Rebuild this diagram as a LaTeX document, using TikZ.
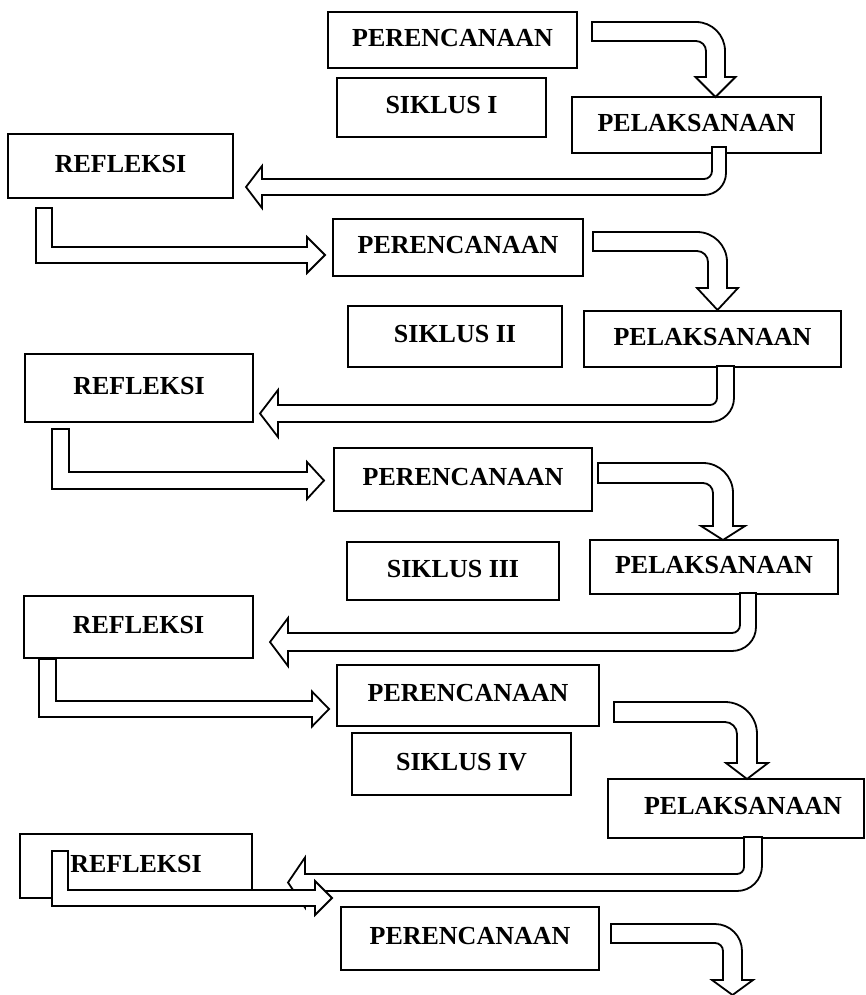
\documentclass[tikz,border=0pt]{standalone}
\usepackage{fontspec}
\setmainfont{Liberation Serif}
\tikzset{
  box/.style={draw, line width=1.8pt, fill=white, inner sep=0pt, outer sep=0pt,
    anchor=north west, font=\fontsize{26}{30}\selectfont\bfseries, text depth=5pt},
  blk/.style={draw, line width=1.8pt, fill=white, line join=miter},
}
% box: name, x1, y1, x2, y2, text
\newcommand\bx[6]{\node[box, minimum width={(#4-#2)*1pt}, minimum height={(#5-#3)*1pt}] (#1) at (#2,#3) {#6};}
% right-then-down arrow: xs, yt, yb, xo, w, ro, yh, hh, ytip
\newcommand\ArrA[9]{%
  \pgfmathsetmacro\aXi{#4-#5}%
  \pgfmathsetmacro\aXc{#4-#5/2}%
  \pgfmathsetmacro\aRi{max(#6-(#3-#2),0)}%
  \pgfmathsetmacro\aK{0.5523}%
  \draw[blk] (#1,#2) -- ({#4-#6},#2) .. controls ({#4-#6+\aK*#6},#2) and (#4,{#2+#6-\aK*#6}) .. (#4,{#2+#6})
    -- (#4,#7) -- ({\aXc+#8},#7) -- (\aXc,#9) -- ({\aXc-#8},#7) -- (\aXi,#7)
    -- (\aXi,{#3+\aRi}) .. controls (\aXi,{#3+\aRi-\aK*\aRi}) and ({\aXi-\aRi+\aK*\aRi},#3) .. ({\aXi-\aRi},#3)
    -- (#1,#3) -- cycle;}
% down-then-left arrow: xi, xo, ys, yt, yb, ro, xh, hh, xtip
\newcommand\ArrB[9]{%
  \pgfmathsetmacro\bRi{max(#6-(#2-#1),0)}%
  \pgfmathsetmacro\bYc{(#4+#5)/2}%
  \pgfmathsetmacro\bK{0.5523}%
  \draw[blk] (#1,#3) -- (#2,#3) -- (#2,{#5-#6}) .. controls (#2,{#5-#6+\bK*#6}) and ({#2-#6+\bK*#6},#5) .. ({#2-#6},#5)
    -- (#7,#5) -- (#7,{\bYc+#8}) -- (#9,\bYc) -- (#7,{\bYc-#8}) -- (#7,#4)
    -- ({#1-\bRi},#4) .. controls ({#1-\bRi+\bK*\bRi},#4) and (#1,{#4-\bRi+\bK*\bRi}) .. (#1,{#4-\bRi}) -- cycle;}
% down-then-right arrow: xl, xr, ys, yt, yb, xh, hh, xtip
\newcommand\ArrC[8]{%
  \pgfmathsetmacro\cYc{(#4+#5)/2}%
  \draw[blk] (#1,#3) -- (#2,#3) -- (#2,#4) -- (#6,#4) -- (#6,{\cYc-#7}) -- (#8,\cYc)
    -- (#6,{\cYc+#7}) -- (#6,#5) -- (#1,#5) -- cycle;}
\begin{document}
\begin{tikzpicture}[x=1pt, y=-1pt]
\useasboundingbox[fill=white] (0,0) rectangle (866,995);
% boxes
\bx{P1}{328}{12}{577}{68}{PERENCANAAN}
\bx{S1}{337}{78}{546}{137}{SIKLUS I}
\bx{L1}{572}{97}{821}{153}{PELAKSANAAN}
\bx{R1}{8}{134}{233}{198}{REFLEKSI}
\bx{P2}{333}{219}{583}{276}{PERENCANAAN}
\bx{S2}{348}{306}{562}{367}{SIKLUS II}
\bx{L2}{584}{311}{841}{367}{PELAKSANAAN}
\bx{R2}{25}{354}{253}{422}{REFLEKSI}
\bx{P3}{334}{448}{592}{511}{PERENCANAAN}
\bx{S3}{347}{542}{559}{600}{SIKLUS III}
\bx{L3}{590}{540}{838}{594}{PELAKSANAAN}
\bx{R3}{24}{596}{253}{658}{REFLEKSI}
\bx{P4}{337}{665}{599}{726}{PERENCANAAN}
\bx{S4}{352}{733}{571}{795}{SIKLUS IV}
\bx{L4}{608}{779}{864}{838}{\hspace*{14pt}PELAKSANAAN}
\bx{R4}{20}{834}{252}{898}{REFLEKSI}
\bx{P5}{341}{907}{599}{970}{PERENCANAAN}
% PERENCANAAN -> PELAKSANAAN
\ArrA{592}{22}{41}{725}{19}{29}{77}{20}{97}
\ArrA{593}{232}{251}{727}{19}{30}{288}{20.5}{310}
\ArrA{598}{463}{483}{733}{20}{30}{526}{22}{540}
\ArrA{614}{702}{722}{757}{20}{32}{763}{21}{779}
\ArrA{611}{924}{943}{742}{19}{27}{980}{20.5}{995}
% PELAKSANAAN -> REFLEKSI
\ArrB{712}{726}{147}{179}{195}{22}{262}{21}{246}
\ArrB{717}{734}{366}{405}{422}{24}{278}{23.5}{260}
\ArrB{740}{756}{593}{633}{651}{24}{288}{24}{270}
\ArrB{744}{762}{837}{874}{891}{25}{305}{25}{288}
% REFLEKSI -> PERENCANAAN
\ArrC{36}{52}{208}{247}{263}{307}{18}{325}
\ArrC{52}{69}{429}{472}{489}{307}{18.5}{324}
\ArrC{39}{56}{659}{701}{717}{312}{17.5}{329}
\ArrC{52}{68}{851}{890}{906}{315}{17}{332}
\end{tikzpicture}
\end{document}
